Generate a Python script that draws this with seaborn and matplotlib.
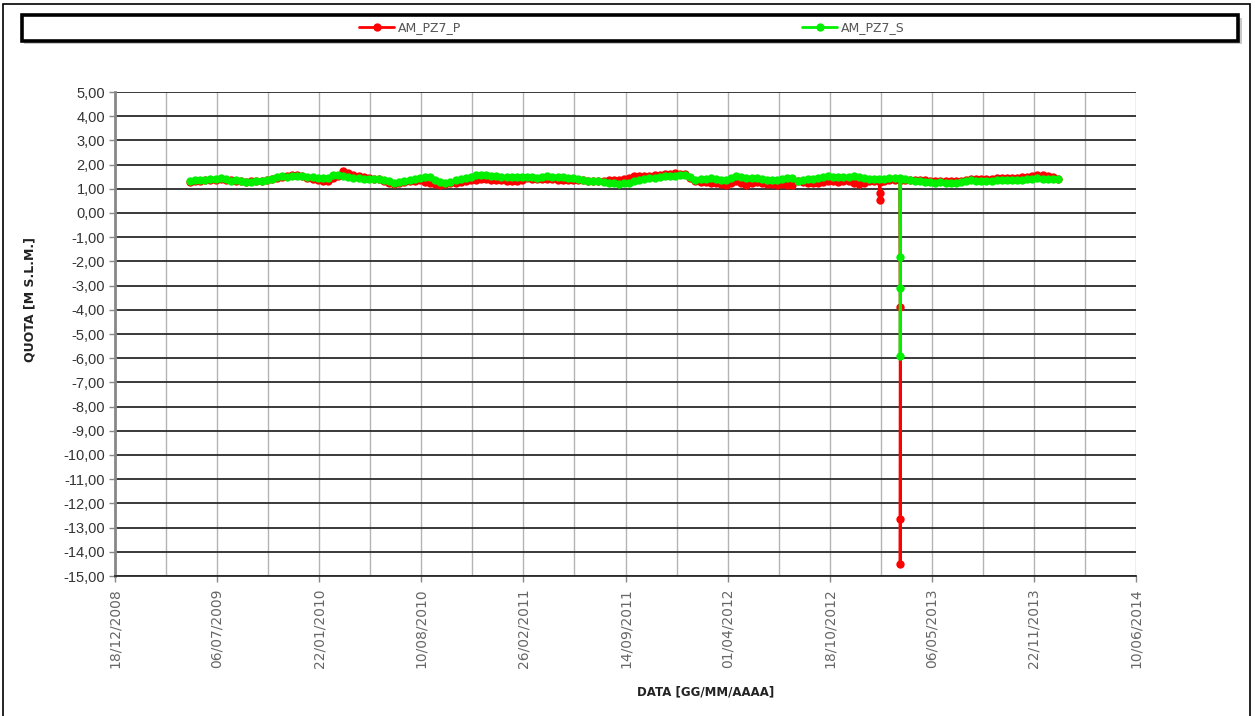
import matplotlib
matplotlib.use("Agg")
import matplotlib.pyplot as plt
from matplotlib.patches import Rectangle
import pandas as pd
import seaborn as sns

# ---- data -------------------------------------------------------------
series_names = ["AM_PZ7_P", "AM_PZ7_S"]
series_colors = ["#FF0000", "#00F000"]

# regular readings, one every 10 days from 14/05/2009
first_reading = "2009-05-14"
reading_step = "10D"

quota_p = [
    1.30, 1.32, 1.33, 1.35, 1.37, 1.38, 1.40, 1.38, 1.35, 1.33,
    1.31, 1.30, 1.31, 1.33, 1.34, 1.35, 1.40, 1.46, 1.48, 1.52,
    1.56, 1.58, 1.52, 1.46, 1.42, 1.37, 1.33, 1.31, 1.45, 1.52,
    1.72, 1.65, 1.58, 1.52, 1.47, 1.44, 1.42, 1.40, 1.33, 1.26,
    1.21, 1.24, 1.30, 1.32, 1.34, 1.35, 1.30, 1.24, 1.20, 1.17,
    1.18, 1.22, 1.26, 1.29, 1.31, 1.35, 1.38, 1.40, 1.39, 1.38,
    1.37, 1.35, 1.33, 1.31, 1.32, 1.38, 1.44, 1.42, 1.40, 1.41,
    1.40, 1.39, 1.38, 1.37, 1.38, 1.37, 1.36, 1.35, 1.34, 1.33,
    1.33, 1.34, 1.35, 1.35, 1.35, 1.40, 1.44, 1.51, 1.52, 1.53,
    1.54, 1.56, 1.58, 1.60, 1.63, 1.65, 1.62, 1.60, 1.45, 1.31,
    1.30, 1.28, 1.26, 1.23, 1.20, 1.17, 1.25, 1.31, 1.24, 1.17,
    1.22, 1.28, 1.25, 1.21, 1.18, 1.17, 1.18, 1.17, 1.17, 1.31,
    1.28, 1.25, 1.24, 1.26, 1.28, 1.31, 1.31, 1.30, 1.31, 1.31,
    1.26, 1.21, 1.26, 1.31, 1.31, 1.31, 1.33, 1.35, 1.37, 1.38,
    1.38, 1.38, 1.38, 1.38, 1.35, 1.33, 1.31, 1.31, 1.31, 1.31,
    1.31, 1.33, 1.36, 1.40, 1.40, 1.40, 1.40, 1.41, 1.43, 1.44,
    1.44, 1.45, 1.46, 1.47, 1.50, 1.54, 1.58, 1.56, 1.54, 1.48, 1.42,
]

quota_s = [
    1.33, 1.35, 1.36, 1.38, 1.40, 1.41, 1.44, 1.40, 1.33, 1.36,
    1.31, 1.29, 1.30, 1.32, 1.34, 1.37, 1.42, 1.48, 1.51, 1.50,
    1.53, 1.54, 1.52, 1.50, 1.49, 1.46, 1.43, 1.44, 1.55, 1.58,
    1.54, 1.49, 1.44, 1.43, 1.42, 1.41, 1.40, 1.40, 1.36, 1.31,
    1.26, 1.28, 1.31, 1.35, 1.40, 1.44, 1.47, 1.49, 1.35, 1.28,
    1.26, 1.30, 1.35, 1.40, 1.44, 1.50, 1.55, 1.58, 1.56, 1.53,
    1.51, 1.50, 1.48, 1.49, 1.49, 1.47, 1.49, 1.50, 1.46, 1.49,
    1.51, 1.50, 1.48, 1.49, 1.46, 1.44, 1.40, 1.35, 1.33, 1.31,
    1.31, 1.28, 1.25, 1.22, 1.21, 1.23, 1.24, 1.31, 1.35, 1.39,
    1.44, 1.46, 1.49, 1.51, 1.52, 1.54, 1.56, 1.58, 1.50, 1.38,
    1.39, 1.42, 1.44, 1.40, 1.37, 1.35, 1.45, 1.51, 1.47, 1.44,
    1.45, 1.44, 1.41, 1.38, 1.36, 1.35, 1.40, 1.43, 1.44, 1.31,
    1.36, 1.40, 1.40, 1.44, 1.48, 1.51, 1.50, 1.49, 1.50, 1.49,
    1.51, 1.50, 1.45, 1.40, 1.41, 1.40, 1.42, 1.43, 1.44, 1.44,
    1.40, 1.37, 1.34, 1.31, 1.30, 1.28, 1.26, 1.27, 1.25, 1.24,
    1.24, 1.28, 1.32, 1.35, 1.33, 1.31, 1.31, 1.33, 1.35, 1.35,
    1.35, 1.36, 1.37, 1.38, 1.40, 1.42, 1.44, 1.42, 1.40, 1.41, 1.40,
]

# extra readings taken around the anomalies of early 2013
extra_dates_p = ["2013-01-24", "2013-01-24", "2013-01-25",
                 "2013-03-05", "2013-03-05", "2013-03-05", "2013-03-06"]
extra_quota_p = [0.82, 0.54, 1.30, -3.90, -12.65, -14.50, 1.36]
extra_dates_s = ["2013-03-05", "2013-03-05", "2013-03-05", "2013-03-06"]
extra_quota_s = [-1.80, -3.10, -5.90, 1.40]

y_ticks = list(range(5, -16, -1))
y_labels = ["5,00", "4,00", "3,00", "2,00", "1,00", "0,00", "-1,00", "-2,00",
            "-3,00", "-4,00", "-5,00", "-6,00", "-7,00", "-8,00", "-9,00",
            "-10,00", "-11,00", "-12,00", "-13,00", "-14,00", "-15,00"]
x_labels = ["18/12/2008", "06/07/2009", "22/01/2010", "10/08/2010", "26/02/2011",
            "14/09/2011", "01/04/2012", "18/10/2012", "06/05/2013", "22/11/2013",
            "10/06/2014"]

# ---- table ------------------------------------------------------------
def build(name, values, extra_dates, extra_values):
    dates = pd.date_range(first_reading, periods=len(values), freq=reading_step)
    df = pd.DataFrame({"data": list(dates) + list(pd.to_datetime(extra_dates)),
                       "quota": list(values) + list(extra_values)})
    df["serie"] = name
    return df.sort_values("data", kind="stable")

df = pd.concat([build(series_names[0], quota_p, extra_dates_p, extra_quota_p),
                build(series_names[1], quota_s, extra_dates_s, extra_quota_s)],
               ignore_index=True)

# ---- figure -----------------------------------------------------------
sns.set_theme(style="white")
plt.rcParams["font.family"] = ["DejaVu Sans"]

W, H = 1255, 716
fig = plt.figure(figsize=(W / 100, H / 100), dpi=100)
fig.patch.set_facecolor("white")
ax = fig.add_axes([115 / W, 1 - 576 / H, (1136 - 115) / W, (576 - 92) / H])

sns.lineplot(data=df, x="data", y="quota", hue="serie", hue_order=series_names,
             palette=series_colors, marker="o", markersize=6, markeredgewidth=0,
             linewidth=2, estimator=None, sort=False, ax=ax)

x_dates = pd.to_datetime(x_labels, format="%d/%m/%Y")
ax.set_xlim(x_dates[0], x_dates[-1])
ax.set_ylim(y_ticks[-1], y_ticks[0])

ax.set_yticks(y_ticks)
ax.set_yticklabels(y_labels, fontsize=10.5, color="#333333", family="Liberation Sans")
ax.set_xticks(x_dates)
ax.set_xticklabels(x_labels, rotation=90, fontsize=10, color="#666666",
                   family="DejaVu Sans", va="top")
half_steps = x_dates[:-1] + (x_dates[1:] - x_dates[:-1]) / 2
ax.set_xticks(half_steps, minor=True)

ax.grid(False)
for y in y_ticks:
    ax.axhline(y, color="#2a2a2a", linewidth=1.3, zorder=0.5)
for xd in list(x_dates) + list(half_steps):
    ax.axvline(xd, color="#b4b4b4", linewidth=1.0, zorder=0.4)

for side in ["top", "right"]:
    ax.spines[side].set_visible(False)
ax.spines["left"].set_color("#888888")
ax.spines["left"].set_linewidth(2)
ax.spines["bottom"].set_color("#2a2a2a")
ax.spines["bottom"].set_linewidth(1.3)
ax.tick_params(axis="y", which="major", length=4, width=1, color="#888888",
               direction="out", left=True, pad=3)
ax.tick_params(axis="x", which="major", length=4, width=1, color="#888888",
               direction="out", bottom=True, pad=5)
ax.tick_params(axis="x", which="minor", length=0)
ax.set_xlabel("")
ax.set_ylabel("")

fig.text(30 / W, 1 - 300 / H, "QUOTA [M S.L.M.]", rotation=90, ha="center",
         va="center", fontsize=9, fontweight="bold", color="#222222")
fig.text(706 / W, 1 - 692 / H, "DATA [GG/MM/AAAA]", ha="center", va="center",
         fontsize=8.5, fontweight="bold", color="#222222")

# legend strip
handles, labels = ax.get_legend_handles_labels()
ax.get_legend().remove()
fig.add_artist(Rectangle((24 / W, 1 - 44 / H), (1240 - 22) / W, 26 / H,
                         transform=fig.transFigure, facecolor="#c8c8c8",
                         edgecolor="none", zorder=1))
fig.add_artist(Rectangle((22 / W, 1 - 41 / H), (1238 - 22) / W, 26 / H,
                         transform=fig.transFigure, facecolor="white",
                         edgecolor="black", linewidth=2.6, zorder=2))
leg = fig.legend(handles, labels, loc="center", bbox_to_anchor=(632 / W, 1 - 28 / H),
                 ncol=2, frameon=False, fontsize=9, handlelength=2.8,
                 handletextpad=0.3, columnspacing=27.3, labelcolor="#555555")
leg.set_zorder(3)

# outer frame
fig.add_artist(Rectangle((3 / W, -0.02), (1250 - 3) / W, 1 - 4 / H + 0.02,
                         transform=fig.transFigure, facecolor="none",
                         edgecolor="black", linewidth=1.2, zorder=0))

fig.savefig("out.png", dpi=100)
